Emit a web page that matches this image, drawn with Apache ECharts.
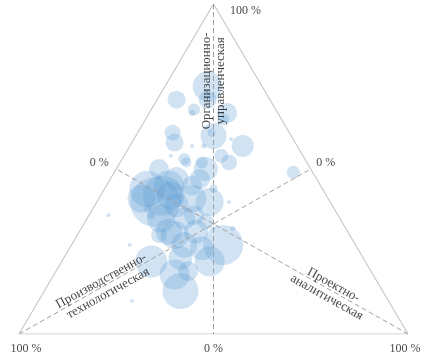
<!DOCTYPE html>
<html>
<head>
<meta charset="utf-8">
<script src="https://cdn.jsdelivr.net/npm/echarts@6/dist/echarts.min.js"></script>
<style>html,body{margin:0;padding:0;background:#fff;}#c{width:431px;height:364px;}</style>
</head>
<body>
<div id="c"></div>
<script>
// Ternary shares (%) for each bubble: organisational-managerial (top), production-technological (left), project-analytical (right)
var orgShare  = [75,71,71,68,67,67,65,61,58,60,61,57,59,57,57,54,52,54,52,52,50,53,49,50,40,42,47,45,45,41,38,36,39,36,40,44,40,36,34,32,32,27,31,30,30,27,27,26,22,23,18,22,13,10,19,44,41,35,35,42,47,31];
var projShare = [11,13, 5,11,11,20,20, 9,11,20,19,29,25,16,19,25,28,12,17,21,23,16,46,11,15,16,17,16,22,24,14,16,21,27,29,28,34, 5,31,34,39,39,23,25,21,15,29,34,23,30,31,38,35,24,34,11,11,19,25,18,23,30];
var prodShare = orgShare.map(function(o,i){return 100-o-projShare[i];});
var bubbleSize = [15,9,9,6,3,10,6,8,9,13,4,11,2,2,2.5,7,8,2,5,6,12,6,6.5,10,25,20,12,15,10,14,4,4,12,10,14,4,2,2,8,2,2.5,20,13,14,8,2,13,12,16,12,15,15,18,2,10,18,14,14,11,14,10,12];

var FONT = "'Liberation Serif','Times New Roman',serif";
var TXT = '#111';

var bubbles = orgShare.map(function(o,i){
  return [projShare[i] + o/2, o, prodShare[i], bubbleSize[i]];
});

function seg(a,b){
  return {type:'line', data:[a,b], symbol:'none', silent:true, z:5,
    lineStyle:{color:'#a0a0a0', width:1, type:[5,3]}};
}
function lab(pt, text, offset, rotate, fs){
  return {value:pt, label:{show:true, position:'inside', formatter:text, offset:offset||[0,0],
    rotate:rotate||0, fontFamily:FONT, fontSize:fs||12, color:TXT, lineHeight:14, align:'center', verticalAlign:'middle'}};
}

var chart = echarts.init(document.getElementById('c'), null, {renderer:'canvas'});
chart.setOption({
  animation:false,
  grid:{left:19, right:23, top:4, bottom:30},
  xAxis:{type:'value', min:0, max:100, show:false},
  yAxis:{type:'value', min:0, max:100, show:false},
  series:[
    {type:'line', data:[[0,0],[100,0],[50,100],[0,0]], symbol:'none', silent:true, z:1,
     lineStyle:{color:'#c8c8c8', width:1.2}},
    {type:'scatter', data:bubbles, z:3,
     symbolSize:function(d){return d[3]*2;},
     itemStyle:{color:'rgba(91,155,213,0.35)', borderWidth:0}},
    seg([50,100],[50,0]),
    seg([0,0],[75,50]),
    seg([100,0],[25,50]),
    {type:'scatter', symbolSize:0, silent:true, z:10,
     data:[
       lab([50,100],'100 %',[32,7]),
       lab([25,50],'0 %',[-17,-6]),
       lab([75,50],'0 %',[15,-6]),
       lab([0,0],'100 %',[7,15]),
       lab([50,0],'0 %',[0,15]),
       lab([100,0],'100 %',[-3,15]),
       lab([50,76.7],'Организационно-\nуправленческая',[0,0],90,13),
       lab([22,14.2],'Производственно-\nтехнологическая',[0,0],29,13),
       lab([80,13],'Проектно-\nаналитическая',[0,0],-29,13)
     ]}
  ]
});
</script>
</body>
</html>
